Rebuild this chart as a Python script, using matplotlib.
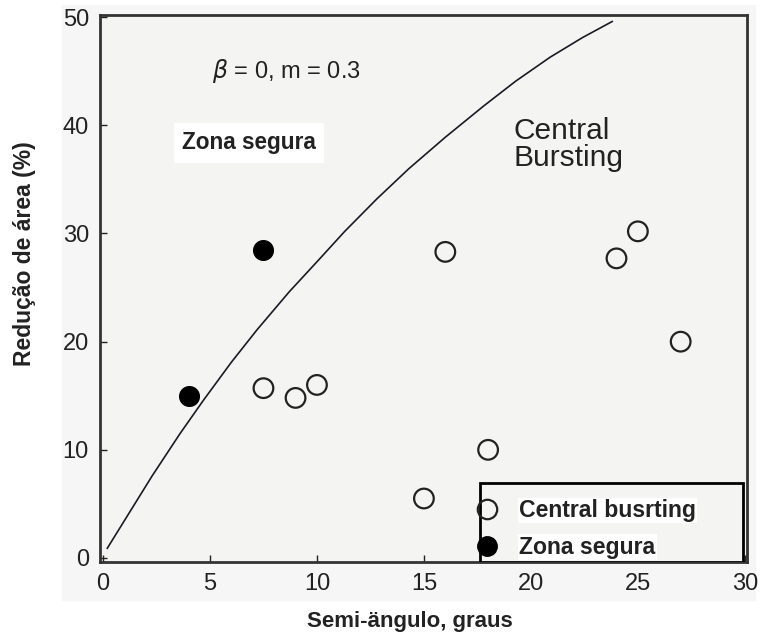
import matplotlib
matplotlib.use("Agg")
import matplotlib.pyplot as plt
from matplotlib.patches import Rectangle
from matplotlib.lines import Line2D

# measured points (semi-angle in degrees, area reduction in %)
burst_x = [7.5, 9.0, 10.0, 15.0, 18.0, 16.0, 24.0, 25.0, 27.0]
burst_y = [15.7, 14.8, 16.0, 5.5, 10.0, 28.3, 27.7, 30.2, 20.0]
safe_x = [4.0, 7.5]
safe_y = [15.0, 28.5]

# boundary curve for beta = 0, m = 0.3
curve_x = [0.2, 2.3, 3.6, 4.7, 6.0, 7.2, 8.7, 10.1, 11.3, 12.8, 14.3, 16.0,
           17.8, 19.3, 20.9, 22.4, 23.8]
curve_y = [0.9, 7.6, 11.5, 14.6, 18.1, 21.1, 24.6, 27.6, 30.2, 33.2, 36.0, 38.9,
           41.8, 44.1, 46.3, 48.1, 49.6]

INK = "#222222"
BG = "#f4f4f2"
plt.rcParams.update({"font.family": "Liberation Sans", "font.size": 15,
                     "text.color": INK})

fig = plt.figure(figsize=(7.61, 6.34), dpi=100, facecolor="white")
# light scanned-paper area behind the plot
fig.patches.append(Rectangle((62 / 761, 1 - 600 / 634), (755 - 62) / 761, (600 - 5) / 634,
                             transform=fig.transFigure, color="#f6f6f6", zorder=-5))
ax = fig.add_axes([100 / 761, 1 - 562 / 634, 647 / 761, 547 / 634])
ax.set_zorder(1)
ax.set_facecolor(BG)

ax.plot(curve_x, curve_y, color="#1a1a24", lw=1.2, zorder=2)
ax.scatter(burst_x, burst_y, s=200, facecolors="none", edgecolors=INK,
           linewidths=1.6, zorder=3)
ax.scatter(safe_x, safe_y, s=200, color="black", zorder=3)

ax.set_xlim(-0.14, 30.1)
ax.set_ylim(-0.37, 50.2)
ax.set_xticks(range(0, 31, 5))
ax.set_yticks(range(0, 51, 10))
ax.tick_params(direction="in", length=5, width=1, colors=INK, labelsize=17, pad=8)
for s in ax.spines.values():
    s.set_linewidth(2)
    s.set_color("#333333")

ax.text(5.1, 45.0, r"$\beta$ = 0, m = 0.3", fontsize=17, ha="left", va="center")
ax.text(3.7, 38.4, "Zona segura", fontsize=16.3, fontweight="bold", ha="left", va="center",
        bbox=dict(facecolor="white", edgecolor="none", pad=6))
ax.text(19.2, 40.8, "Central\nBursting", fontsize=21.5, ha="left", va="top",
        linespacing=0.95)

# legend box: frame drawn separately so the entries can sit close to its edge
ax.add_patch(Rectangle((0.587, 0.0), 0.407, 0.1444, transform=ax.transAxes,
                       facecolor=BG, edgecolor="black", lw=2, zorder=4))
handles = [Line2D([], [], ls="none", marker="o", ms=14, mfc="none", mec=INK, mew=1.6),
           Line2D([], [], ls="none", marker="o", ms=14, mfc="black", mec="black")]
leg = ax.legend(handles, ["Central busrting", "Zona segura"], loc="lower left",
                bbox_to_anchor=(0.587, 0.006), borderaxespad=0, frameon=False,
                handlelength=0.6, handletextpad=1.1, borderpad=0, labelspacing=0.6,
                prop={"weight": "bold", "size": 16.6})
leg.set_zorder(5)
for t in leg.get_texts():
    t.set_bbox(dict(facecolor="white", edgecolor="none", pad=1))

fig.text(410 / 761, 1 - 622 / 634, "Semi-ängulo, graus", fontsize=16, fontweight="bold",
         ha="center", va="center")
fig.text(25 / 761, 1 - 254 / 634, "Redução de área (%)", fontsize=16.5, fontweight="bold",
         ha="center", va="center", rotation=90)

fig.savefig("out.png", dpi=100)
